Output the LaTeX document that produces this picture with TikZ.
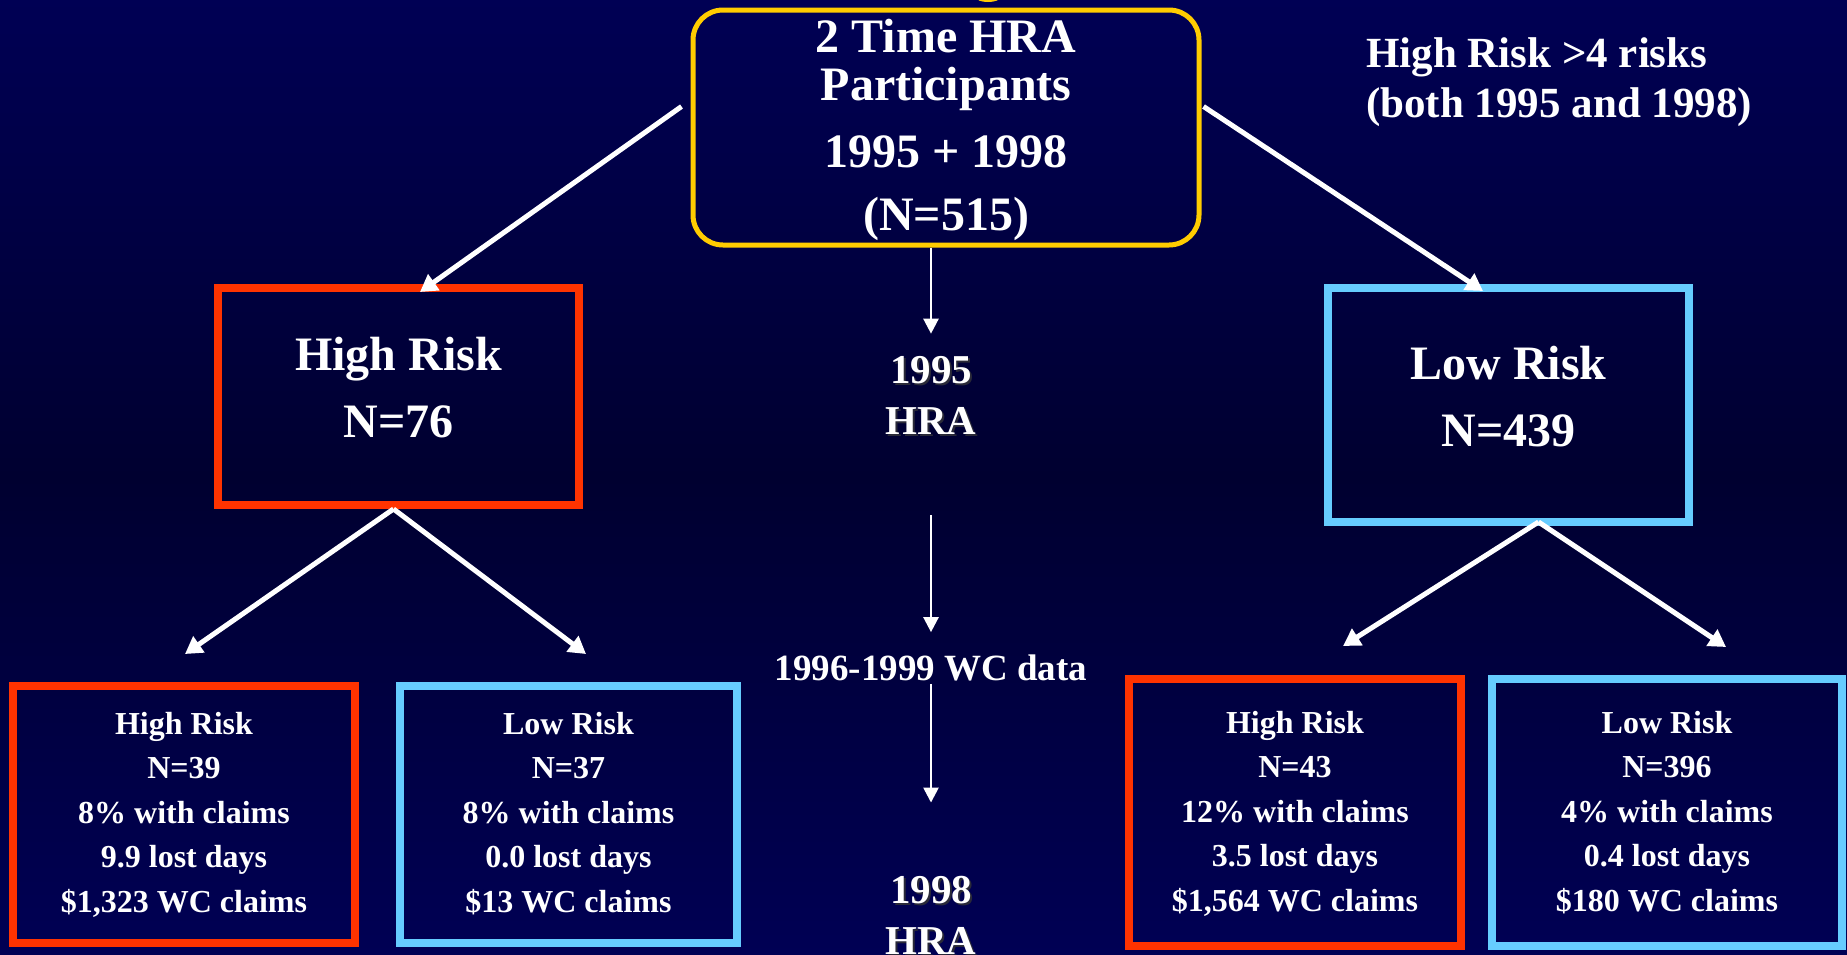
\documentclass[tikz,border=0pt]{standalone}
\usepackage{fontspec}
\setmainfont{Liberation Serif}
\usetikzlibrary{arrows.meta}
\definecolor{bgtop}{HTML}{000054}
\definecolor{bgmid}{HTML}{000030}
\definecolor{bgbot}{HTML}{000054}
\definecolor{redc}{HTML}{FF3300}
\definecolor{bluec}{HTML}{66CCFF}
\definecolor{yelc}{HTML}{FFCC00}
\definecolor{shadowc}{HTML}{2A2A38}
\newcommand\linestack[1]{\vtop{\halign{\hfil##\hfil\cr#1\crcr}}}
\newcommand\leftstack[1]{\vtop{\halign{##\hfil\cr#1\crcr}}}
\begin{document}
\begin{tikzpicture}[x=1pt,y=1pt,
  txt/.style={text=white,inner sep=0pt,anchor=base},
  shd/.style={text=shadowc,inner sep=0pt,anchor=base},
  box/.style={draw=#1,line width=8pt,inner sep=0pt},
  arr/.style={draw=white,line width=5pt,-{Triangle[length=17pt,width=19pt]}},
  varr/.style={draw=white,line width=2.5pt,-{Triangle[length=15pt,width=15pt]}},
  fbig/.style={font=\bfseries\fontsize{48}{48}\selectfont},
  fmid/.style={font=\bfseries\fontsize{48}{67}\selectfont},
  fcen/.style={font=\bfseries\fontsize{41}{51}\selectfont},
  fwc/.style={font=\bfseries\fontsize{37}{44}\selectfont},
  fnote/.style={font=\bfseries\fontsize{43}{50}\selectfont},
  fsmall/.style={font=\bfseries\fontsize{32}{44.5}\selectfont}]
\useasboundingbox (0,0) rectangle (1847,-954);
\shade[top color=bgtop,bottom color=bgbot,middle color=bgmid] (0,0) rectangle (1847,-954);
\fill[yelc] (988,2) ellipse (11.5 and 4);

% top box
\node[draw=yelc,line width=5pt,rounded corners=30pt,inner sep=0pt,
      minimum width=506pt,minimum height=235pt] (top) at (946,-127.5) {};
\node[txt,fbig] (toptext) at (946,-52)
  {\linestack{2 Time HRA\cr Participants\cr\noalign{\vskip19pt}1995 + 1998\cr\noalign{\vskip15pt}(N=515)}};

% note
\node[txt,fnote,anchor=base west] (note) at (1366,-67)
  {\leftstack{High Risk >4 risks\cr (both 1995 and 1998)}};

% middle boxes
\node[box=redc,minimum width=361pt,minimum height=217pt] (hr) at (398.5,-396.5) {};
\node[txt,fmid] (hrt) at (398.5,-370) {\linestack{High Risk\cr N=76}};
\node[box=bluec,minimum width=361pt,minimum height=234pt] (lr) at (1508.5,-405) {};
\node[txt,fmid] (lrt) at (1508.5,-379) {\linestack{Low Risk\cr N=439}};

% centre labels
\node[shd,fcen] (y95s) at (933,-385) {\linestack{1995\cr HRA}};
\node[txt,fcen] (y95) at (931,-383) {\linestack{1995\cr HRA}};
\node[txt,fwc] (wc) at (931,-680) {1996-1999 WC data};
\node[shd,fcen] (y98s) at (933,-905) {\linestack{1998\cr HRA}};
\node[txt,fcen] (y98) at (931,-903) {\linestack{1998\cr HRA}};

% bottom boxes
\node[box=redc,minimum width=342pt,minimum height=257pt] (b1) at (184,-814.5) {};
\node[txt,fsmall] (b1t) at (184,-734)
  {\linestack{High Risk\cr N=39\cr 8\% with claims\cr 9.9 lost days\cr \$1,323 WC claims}};
\node[box=bluec,minimum width=337pt,minimum height=257pt] (b2) at (568.5,-814.5) {};
\node[txt,fsmall] (b2t) at (568.5,-734)
  {\linestack{Low Risk\cr N=37\cr 8\% with claims\cr 0.0 lost days\cr \$13 WC claims}};
\node[box=redc,minimum width=332pt,minimum height=267pt] (b3) at (1295,-812.5) {};
\node[txt,fsmall] (b3t) at (1295,-733)
  {\linestack{High Risk\cr N=43\cr 12\% with claims\cr 3.5 lost days\cr \$1,564 WC claims}};
\node[box=bluec,minimum width=350pt,minimum height=267pt] (b4) at (1667,-812.5) {};
\node[txt,fsmall] (b4t) at (1667,-733)
  {\linestack{Low Risk\cr N=396\cr 4\% with claims\cr 0.4 lost days\cr \$180 WC claims}};

% free arrow ends
\coordinate (c1) at (185,-654);
\coordinate (c2) at (586,-654);
\coordinate (c3) at (1343,-646);
\coordinate (c4) at (1726,-647);

% connectors
\draw[arr] ([xshift=-9pt,yshift=21pt]top.west) -- ([xshift=21.5pt,yshift=-8pt]hr.north);
\draw[arr] ([xshift=2pt,yshift=21pt]top.east) -- ([xshift=-25.5pt,yshift=-7pt]lr.north);
\draw[arr] ([xshift=-5pt]hr.south) -- (c1);
\draw[arr] ([xshift=-5pt]hr.south) -- (c2);
\draw[arr] ([xshift=30pt,yshift=4pt]lr.south) -- (c3);
\draw[arr] ([xshift=30pt,yshift=4pt]lr.south) -- (c4);
\draw[varr] (top.south -| y95) -- ([yshift=22pt]y95.north);
\draw[varr] ([yshift=-81pt]y95.south) -- ([yshift=22pt]wc.north);
\draw[varr] ([yshift=-3pt]wc.south) -- ([yshift=73pt]y98.north);
\end{tikzpicture}
\end{document}
